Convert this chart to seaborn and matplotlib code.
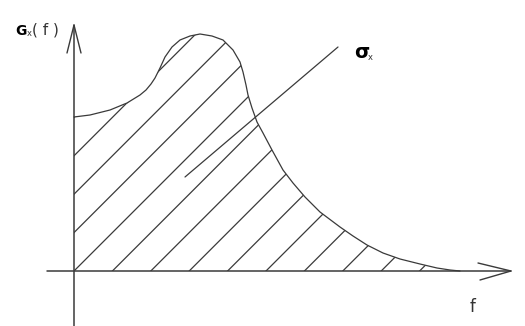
import numpy as np
import pandas as pd
import matplotlib
matplotlib.use("Agg")
import matplotlib.pyplot as plt
import seaborn as sns
from matplotlib.patches import Polygon

sns.set_theme(style="white")
plt.rcParams['font.family'] = ['DejaVu Sans']

# Spectral density curve Gx(f) (schematic units)
freq = [0, 16, 36, 53, 66, 72, 77, 81, 86, 91, 98, 106, 116, 126, 138, 149,
        159, 166, 169, 172, 174, 178, 183, 189, 198, 209, 219, 231, 246, 266,
        279, 293, 309, 326, 346, 363, 376, 386]
gx = [154, 156, 161, 168, 176, 181, 187, 193, 203, 214, 224, 231, 235, 237,
      235, 231, 221, 209, 199, 186, 176, 163, 149, 138, 121, 101, 88, 74, 59,
      44, 35, 26, 18, 12, 7, 3, 1, 0]

# sigma_x leader line
sig_x = [111, 264]
sig_y = [94, 224]

df = pd.DataFrame({"f": freq, "G": gx})
col = "#3a3a3a"
lw = 0.9

fig = plt.figure(figsize=(5.25, 3.26), dpi=100)
ax = fig.add_axes([0, 0, 1, 1])
ax.set_xlim(-74, 451)
ax.set_ylim(-55, 271)
ax.axis("off")

sns.lineplot(data=df, x="f", y="G", sort=False, estimator=None, color=col,
             linewidth=lw, ax=ax)

# hatch clipped to area under curve
poly = Polygon(list(zip(freq, gx)) + [(0, 0)], closed=True, facecolor="none",
               edgecolor="none")
ax.add_patch(poly)
for k in range(-8, 11):
    c = k * 38.4
    xs = np.array([-100, 500])
    ln, = ax.plot(xs, xs - c, color=col, linewidth=lw)
    ln.set_clip_path(poly)

# axes
ax.plot([0, 0], [-60, 246], color=col, linewidth=1.1)
ax.plot([-7, 0, 7], [218, 246, 218], color=col, linewidth=1.0)
ax.plot([-27, 437], [0, 0], color=col, linewidth=1.1)
ax.plot([404, 437, 406], [8, 0, -9], color=col, linewidth=1.0)

# sigma line
ax.plot(sig_x, sig_y, color=col, linewidth=lw)

# labels
ax.text(-59, 240, "G", fontsize=10, fontweight="bold", color="black",
        ha="left", va="center")
ax.text(-47, 237, "x", fontsize=6, color="#333333", ha="left", va="center")
ax.text(-42, 241, "( f )", fontsize=11, color="#333333", ha="left", va="center")
ax.text(280, 218, "σ", fontsize=14, fontweight="bold", color="black",
        ha="left", va="center")
ax.text(294, 214, "x", fontsize=6, color="#333333", ha="left", va="center")
ax.text(396, -36, "f", fontsize=12, color="#333333", ha="left", va="center")

fig.savefig("out.png", dpi=100)
